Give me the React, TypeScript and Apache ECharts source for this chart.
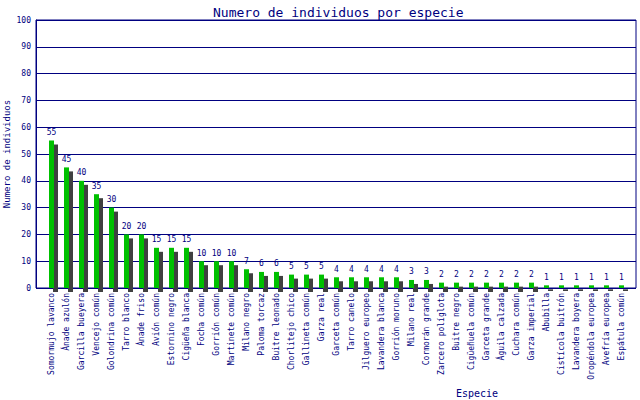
import React, { useEffect, useRef } from "react";
import * as echarts from "echarts";

const categories: string[] = [
  "Somormujo lavanco", "Ánade azulón", "Garcilla bueyera", "Vencejo común", "Golondrina común",
  "Tarro blanco", "Ánade friso", "Avión común", "Estornino negro", "Cigüeña blanca",
  "Focha común", "Gorrión común", "Martinete común", "Milano negro", "Paloma torcaz",
  "Buitre leonado", "Chorlitejo chico", "Gallineta común", "Garza real", "Garceta común",
  "Tarro canelo", "Jilguero europeo", "Lavandera blanca", "Gorrión moruno", "Milano real",
  "Cormorán grande", "Zarcero políglota", "Buitre negro", "Cigüeñuela común", "Garceta grande",
  "Águila calzada", "Cuchara común", "Garza imperial", "Abubilla", "Cistícola buitrón",
  "Lavandera boyera", "Oropéndola europea", "Avefría europea", "Espátula común",
];

const counts: number[] = [
  55, 45, 40, 35, 30, 20, 20, 15, 15, 15,
  10, 10, 10, 7, 6, 6, 5, 5, 5, 4,
  4, 4, 4, 4, 3, 3, 2, 2, 2, 2,
  2, 2, 2, 1, 1, 1, 1, 1, 1,
];

const titleText = "Numero de individuos por especie";
const yName = "Numero de individuos";
const xName = "Especie";

const NAVY = "#000080";
const FONT = "DejaVu Sans Mono";

export default function App() {
  const ref = useRef<HTMLDivElement>(null);
  useEffect(() => {
    if (!ref.current) return;
    const chart = echarts.init(ref.current, undefined, { renderer: "svg" });
    chart.setOption({
      animation: false,
      backgroundColor: "#ffffff",
      title: [
        {
          text: titleText,
          left: 208,
          top: 1,
          textStyle: { fontFamily: FONT, fontSize: 13, fontWeight: "normal", color: NAVY },
        },
        {
          text: xName,
          left: 451,
          top: 383,
          textStyle: { fontFamily: FONT, fontSize: 10, fontWeight: "normal", color: NAVY },
        },
      ],
      grid: [
        {
          left: 36, top: 20, width: 600, height: 268,
          show: true, borderColor: NAVY, borderWidth: 1, backgroundColor: "transparent",
          containLabel: false,
          outerBoundsMode: "none",
        },
        {
          left: 44, top: 20, width: 585, height: 268,
          containLabel: false,
          outerBoundsMode: "none",
        },
      ],
      xAxis: [
        { gridIndex: 0, type: "category", data: [""], show: false },
        {
          gridIndex: 1,
          type: "category",
          data: categories,
          axisLine: { show: false },
          axisTick: { show: false },
          axisLabel: {
            interval: 0,
            rotate: 90,
            margin: 5,
            fontFamily: FONT,
            fontSize: 8,
            color: NAVY,
          },
        },
      ],
      yAxis: [
        {
          gridIndex: 0,
          type: "value",
          min: 0,
          max: 100,
          interval: 10,
          name: yName,
          nameLocation: "middle",
          nameGap: 25,
          nameMoveOverlap: false,
          nameTextStyle: { fontFamily: FONT, fontSize: 9, color: NAVY },
          axisLine: { show: true, lineStyle: { color: NAVY, width: 1 } },
          axisTick: { show: false },
          axisLabel: { fontFamily: FONT, fontSize: 8, color: NAVY, margin: 5 },
          splitLine: { show: true, lineStyle: { color: NAVY, width: 1 } },
        },
        { gridIndex: 1, type: "value", min: 0, max: 100, interval: 10, show: false, splitLine: { show: false } },
      ],
      series: [
        {
          type: "bar",
          xAxisIndex: 1,
          yAxisIndex: 1,
          data: counts,
          barWidth: 5,
          itemStyle: {
            color: "#00c000",
            shadowColor: "#404040",
            shadowBlur: 0,
            shadowOffsetX: 4,
            shadowOffsetY: 4,
          },
          label: {
            show: true,
            position: "top",
            distance: 4,
            fontFamily: FONT,
            fontSize: 8,
            color: NAVY,
          },
        },
      ],
    });
    return () => chart.dispose();
  }, []);
  return (
    <div
      ref={ref}
      style={{ position: "fixed", left: 0, top: 0, width: 640, height: 400, background: "#fff" }}
    />
  );
}
